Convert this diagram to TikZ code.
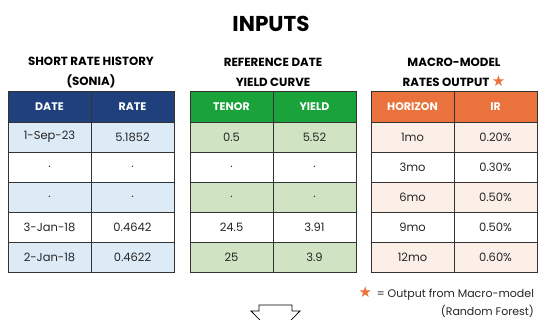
\documentclass[tikz,border=0pt]{standalone}
\usepackage{fontspec}
\setmainfont{Poppins}
\newfontfamily\symfont{DejaVu Sans}
\usetikzlibrary{positioning}
\definecolor{soniahd}{RGB}{31,64,125}
\definecolor{sonialt}{RGB}{221,235,247}
\definecolor{curvehd}{RGB}{25,163,58}
\definecolor{curvelt}{RGB}{208,228,196}
\definecolor{macrohd}{RGB}{234,114,60}
\definecolor{macrolt}{RGB}{252,239,232}
\newcommand{\outstar}{{\symfont\fontsize{15}{15}\selectfont\textcolor{macrohd}{★}}}
\tikzset{
    cell/.style={draw=black!80,line width=0.8pt,minimum width=83pt,minimum height=30pt,
        inner sep=0pt,font=\fontsize{11.5}{13}\selectfont,text=black!85},
    head/.style={cell,minimum height=31pt,font=\bfseries\fontsize{11}{13}\selectfont,text=white},
    caption/.style={align=center,font=\bfseries\fontsize{11.8}{20.5}\selectfont},
    downarrow/.style={draw=black,line width=0.8pt,fill=white}
}

\begin{document}
\begin{tikzpicture}[x=1pt,y=-1pt]
  \useasboundingbox (0,0) rectangle (538,320);
  \clip (0,0) rectangle (538,320);
  % title
  \node[font=\bfseries\fontsize{21.5}{24}\selectfont] (title) at (271,24) {INPUTS};
  % table captions
  \node[caption] (soniacap) at (91,72.5) {SHORT RATE HISTORY\\(SONIA)};
  \node[caption] (curvecap) at (273,72.5) {REFERENCE DATE\\YIELD CURVE};
  \node[caption] (macrocap) at (454,72.5) {MACRO-MODEL\\RATES OUTPUT \outstar};
  % short rate history (SONIA)
  \node[head,fill=soniahd] (datehd) at (49.5,106.5) {DATE};
  \node[head,fill=soniahd] (ratehd) at (132.5,106.5) {RATE};
  \node[cell,fill=sonialt] (date1) at (49.5,137) {1-Sep-23};
  \node[cell,fill=sonialt] (rate1) at (132.5,137) {5.1852};
  \node[cell,fill=white]   (date2) at (49.5,167) {.};
  \node[cell,fill=white]   (rate2) at (132.5,167) {.};
  \node[cell,fill=sonialt] (date3) at (49.5,197) {.};
  \node[cell,fill=sonialt] (rate3) at (132.5,197) {.};
  \node[cell,fill=white]   (date4) at (49.5,227) {3-Jan-18};
  \node[cell,fill=white]   (rate4) at (132.5,227) {0.4642};
  \node[cell,fill=sonialt] (date5) at (49.5,257) {2-Jan-18};
  \node[cell,fill=sonialt] (rate5) at (132.5,257) {0.4622};
  % reference date yield curve
  \node[head,fill=curvehd] (tenorhd) at (231.5,106.5) {TENOR};
  \node[head,fill=curvehd] (yieldhd) at (314.5,106.5) {YIELD};
  \node[cell,fill=curvelt] (tenor1) at (231.5,137) {0.5};
  \node[cell,fill=curvelt] (yield1) at (314.5,137) {5.52};
  \node[cell,fill=white]   (tenor2) at (231.5,167) {.};
  \node[cell,fill=white]   (yield2) at (314.5,167) {.};
  \node[cell,fill=curvelt] (tenor3) at (231.5,197) {.};
  \node[cell,fill=curvelt] (yield3) at (314.5,197) {.};
  \node[cell,fill=white]   (tenor4) at (231.5,227) {24.5};
  \node[cell,fill=white]   (yield4) at (314.5,227) {3.91};
  \node[cell,fill=curvelt] (tenor5) at (231.5,257) {25};
  \node[cell,fill=curvelt] (yield5) at (314.5,257) {3.9};
  % macro-model rates output
  \node[head,fill=macrohd] (horizonhd) at (412.5,106.5) {HORIZON};
  \node[head,fill=macrohd] (irhd) at (495.5,106.5) {IR};
  \node[cell,fill=macrolt] (horizon1) at (412.5,137) {1mo};
  \node[cell,fill=macrolt] (ir1) at (495.5,137) {0.20\%};
  \node[cell,fill=white]   (horizon2) at (412.5,167) {3mo};
  \node[cell,fill=white]   (ir2) at (495.5,167) {0.30\%};
  \node[cell,fill=macrolt] (horizon3) at (412.5,197) {6mo};
  \node[cell,fill=macrolt] (ir3) at (495.5,197) {0.50\%};
  \node[cell,fill=white]   (horizon4) at (412.5,227) {9mo};
  \node[cell,fill=white]   (ir4) at (495.5,227) {0.50\%};
  \node[cell,fill=macrolt] (horizon5) at (412.5,257) {12mo};
  \node[cell,fill=macrolt] (ir5) at (495.5,257) {0.60\%};
  % legend
  \node[anchor=east,align=right,font=\fontsize{11}{18}\selectfont,text=black!85] (legend) at (537.5,302.5)
    {\outstar{} \,= Output from Macro-model\\(Random Forest)};
  % down arrow (cut off at the bottom)
  \draw[downarrow] (259,305) -- (292,305) -- (292,311) -- (300,311) -- (275.5,336)
    -- (251,311) -- (259,311) -- cycle;
\end{tikzpicture}
\end{document}
